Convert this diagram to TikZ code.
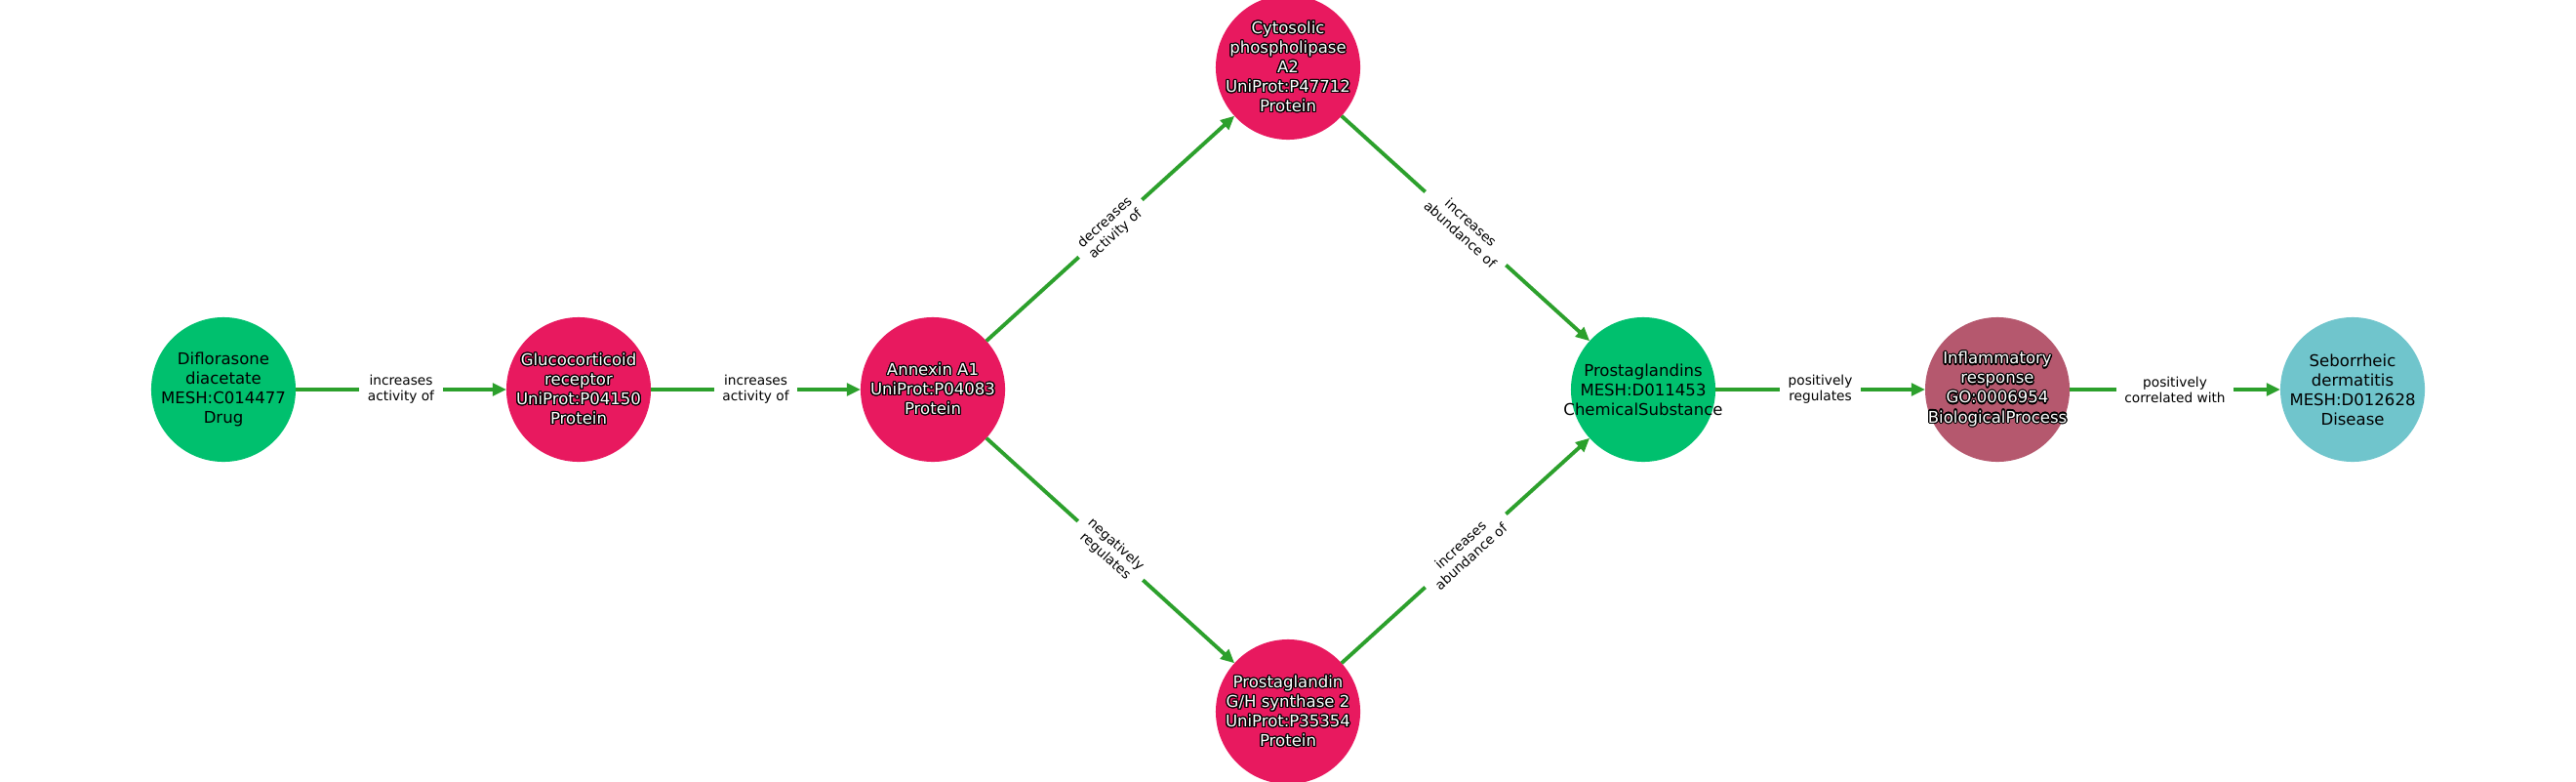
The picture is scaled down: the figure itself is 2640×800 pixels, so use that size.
\documentclass[tikz,border=0pt]{standalone}
\usepackage{fontspec}
\setmainfont{DejaVu Sans}
\usepackage{contour}
\usepackage{tikz}
\usetikzlibrary{arrows.meta, shapes}
\definecolor{drugcol}{RGB}{0, 192, 110}
\definecolor{protcol}{RGB}{232, 25, 95}
\definecolor{proccol}{RGB}{181, 88, 110}
\definecolor{diseasecol}{RGB}{112, 197, 204}
\definecolor{edgecol}{RGB}{44, 160, 44}
\contourlength{0.35pt}
\newcommand{\outl}[1]{\contour{black}{#1}}

\begin{document}
\begin{tikzpicture}[x=0.01cm, y=-0.01cm,
    ent/.style={circle, minimum size=1.48cm, inner sep=0pt, outer sep=0pt},
    etext/.style={align=center, inner sep=0pt, font=\fontsize{4.7}{5.7}\selectfont},
    wtext/.style={etext, text=white},
    edge/.style={draw=edgecol, line width=1.1pt, -{Triangle[length=4pt, width=3.6pt]}},
    elabel/.style={fill=white, inner sep=2.5pt, align=center,
        font=\fontsize{3.9}{4.6}\selectfont}]
        \useasboundingbox (0,0) rectangle (2640,800);
        
        % Knoten
        \node[ent, fill=drugcol] (dif) at (229,399) {};
        \node[ent, fill=protcol] (gr) at (593,399) {};
        \node[ent, fill=protcol] (anx) at (956,399) {};
        \node[ent, fill=protcol] (cpla) at (1320,69) {};
        \node[ent, fill=protcol] (ptgs) at (1320,729) {};
        \node[ent, fill=drugcol] (pgs) at (1684,399) {};
        \node[ent, fill=proccol] (infl) at (2047,399) {};
        \node[ent, fill=diseasecol] (seb) at (2411,399) {};
        
        % Beschriftungen
        \node[etext] (dif-t) at (dif) {Diflorasone\\diacetate\\MESH:C014477\\Drug};
        \node[wtext] (gr-t) at (gr) {\outl{Glucocorticoid}\\\outl{receptor}\\\outl{UniProt:P04150}\\\outl{Protein}};
        \node[wtext] (anx-t) at (anx) {\outl{Annexin A1}\\\outl{UniProt:P04083}\\\outl{Protein}};
        \node[wtext] (cpla-t) at (cpla) {\outl{Cytosolic}\\\outl{phospholipase}\\\outl{A2}\\\outl{UniProt:P47712}\\\outl{Protein}};
        \node[wtext] (ptgs-t) at (ptgs) {\outl{Prostaglandin}\\\outl{G/H synthase 2}\\\outl{UniProt:P35354}\\\outl{Protein}};
        \node[etext] (pgs-t) at (pgs) {Prostaglandins\\MESH:D011453\\ChemicalSubstance};
        \node[wtext] (infl-t) at (infl) {\outl{Inflammatory}\\\outl{response}\\\outl{GO:0006954}\\\outl{BiologicalProcess}};
        \node[etext] (seb-t) at (seb) {Seborrheic\\dermatitis\\MESH:D012628\\Disease};
        
        % Kanten
        \draw[edge] (dif) -- node[elabel] {increases\\activity of} (gr);
        \draw[edge] (gr) -- node[elabel] {increases\\activity of} (anx);
        \draw[edge] (anx) -- node[elabel, sloped] {decreases\\activity of} (cpla);
        \draw[edge] (anx) -- node[elabel, sloped] {negatively\\regulates} (ptgs);
        \draw[edge] (cpla) -- node[elabel, sloped] {increases\\abundance of} (pgs);
        \draw[edge] (ptgs) -- node[elabel, sloped] {increases\\abundance of} (pgs);
        \draw[edge] (pgs) -- node[elabel] {positively\\regulates} (infl);
        \draw[edge] (infl) -- node[elabel] {positively\\correlated with} (seb);
    \end{tikzpicture}
\end{document}
